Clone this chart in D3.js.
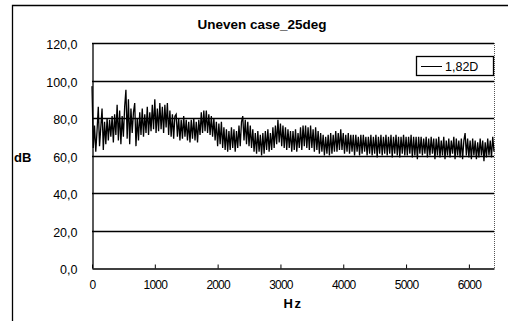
<!DOCTYPE html>
<html>
<head>
<meta charset="utf-8">
<script src="https://cdn.jsdelivr.net/npm/d3@7"></script>
<style>
  body { margin: 0; background: #fff; }
  svg { display: block; }
  text { font-family: "Liberation Sans", Arial, sans-serif; fill: #000; }
</style>
</head>
<body>
<div id="chart"></div>
<script>
const title = 'Uneven case_25deg';
const seriesName = '1,82D';
const yTicks = [0, 20, 40, 60, 80, 100, 120];
const xTicks = [0, 1000, 2000, 3000, 4000, 5000, 6000];
const freqStep = 20; // Hz between samples

// spectrum level in dB, one value every 20 Hz from 0 to 6400 Hz
const level0k = [97, 64, 76, 62, 73, 86, 65, 75, 85, 63, 78, 66, 80, 68, 79, 70, 81, 67, 82, 71,
  87, 68, 84, 66, 81, 70, 86, 95, 69, 90, 66, 85, 72, 83, 88, 65, 80, 68, 83, 71,
  85, 70, 82, 72, 86, 71, 83, 73, 87, 74];
const level1k = [90, 72, 85, 73, 88, 74, 86, 72, 87, 75, 88, 71, 84, 70, 82, 69, 81, 82, 70, 80,
  68, 79, 69, 81, 70, 79, 68, 78, 67, 79, 69, 80, 68, 78, 67, 79, 71, 83, 72, 84,
  73, 84, 72, 82, 71, 81, 70, 80, 68, 78];
const level2k = [65, 77, 66, 78, 64, 75, 63, 74, 62, 73, 63, 75, 64, 74, 62, 73, 64, 76, 65, 78,
  81, 68, 79, 66, 78, 65, 76, 64, 74, 62, 72, 61, 73, 62, 71, 60, 72, 61, 73, 63,
  74, 62, 72, 63, 75, 64, 76, 66, 79, 67];
const level3k = [77, 65, 76, 64, 75, 63, 74, 64, 73, 62, 73, 63, 74, 62, 72, 64, 75, 63, 76, 65,
  76, 64, 75, 63, 76, 64, 74, 62, 75, 63, 73, 61, 72, 62, 71, 60, 70, 61, 71, 60,
  72, 61, 71, 62, 73, 62, 72, 63, 74, 63];
const level4k = [72, 61, 71, 62, 72, 61, 71, 62, 71, 60, 71, 62, 70, 60, 71, 61, 71, 62, 70, 60,
  70, 61, 71, 60, 70, 61, 71, 59, 70, 61, 71, 60, 70, 61, 71, 60, 70, 61, 71, 59,
  70, 61, 71, 60, 70, 59, 70, 61, 71, 60];
const level5k = [70, 60, 70, 61, 71, 59, 70, 60, 70, 58, 70, 61, 70, 60, 69, 61, 70, 59, 69, 60,
  70, 61, 69, 58, 69, 60, 70, 59, 68, 60, 70, 58, 68, 60, 69, 59, 68, 61, 70, 58,
  69, 60, 68, 59, 69, 58, 68, 72, 60, 69];
const level6k = [59, 68, 58, 69, 60, 68, 58, 67, 59, 69, 60, 68, 57, 67, 59, 69, 60, 68, 59, 70, 62];

const levels = [].concat(level0k, level1k, level2k, level3k, level4k, level5k, level6k);
const data = levels.map((v, i) => ({hz: i * freqStep, db: v}));

const W = 508, H = 321;
const margin = {top: 43, right: 14, bottom: 53, left: 92};

const svg = d3.select('#chart').append('svg')
  .attr('width', W).attr('height', H);

// outer chart frame (cut off at right/bottom)
svg.append('path')
  .attr('d', 'M12.5,' + H + 'V5.5H' + W)
  .attr('fill', 'none').attr('stroke', '#000').attr('stroke-width', 1.3);

const x = d3.scaleLinear().domain([0, 6400]).range([margin.left, W - margin.right]);
const y = d3.scaleLinear().domain([0, 120]).range([H - margin.bottom, margin.top]);

// gridlines
svg.append('g')
  .selectAll('line')
  .data(yTicks.filter(d => d > 0))
  .join('line')
  .attr('x1', x(0)).attr('x2', x(6400))
  .attr('y1', d => Math.round(y(d)) + 0.5).attr('y2', d => Math.round(y(d)) + 0.5)
  .attr('stroke', '#000').attr('stroke-width', 1.3);

// right border dotted
svg.append('line')
  .attr('x1', x(6400) + 0.5).attr('x2', x(6400) + 0.5)
  .attr('y1', y(120)).attr('y2', y(0))
  .attr('stroke', '#555').attr('stroke-dasharray', '1,1');

// y axis
const yAxis = svg.append('g')
  .attr('transform', 'translate(' + (x(0) + 0.5) + ',0)')
  .call(d3.axisLeft(y).tickValues(yTicks).tickSize(0).tickPadding(15)
    .tickFormat(d => d3.format('.1f')(d).replace('.', ',')));
yAxis.select('.domain').attr('stroke-width', 1.3);
yAxis.selectAll('text').attr('font-size', 12.5).attr('dy', '0.45em');

// x axis, ticks pointing up into the plot
const xAxis = svg.append('g')
  .attr('transform', 'translate(0,' + (Math.round(y(0)) + 0.5) + ')')
  .call(d3.axisBottom(x).tickValues(xTicks).tickSizeInner(-4).tickSizeOuter(0).tickPadding(12)
    .tickFormat(d3.format('d')));
xAxis.select('.domain').attr('stroke-width', 1.3);
xAxis.selectAll('text').attr('font-size', 12).attr('letter-spacing', -0.8);

// spectrum trace
const line = d3.line()
  .x(d => x(d.hz))
  .y(d => y(d.db));

svg.append('path')
  .datum(data)
  .attr('d', line)
  .attr('fill', 'none')
  .attr('stroke', '#000')
  .attr('stroke-width', 1.3)
  .attr('stroke-linejoin', 'miter');

// title and axis names
svg.append('text')
  .attr('x', 262).attr('y', 29)
  .attr('text-anchor', 'middle')
  .attr('font-size', 13.5).attr('font-weight', 'bold')
  .text(title);

svg.append('text')
  .attr('x', 14).attr('y', 162)
  .attr('font-size', 13).attr('font-weight', 'bold')
  .text('dB');

svg.append('text')
  .attr('x', 293).attr('y', 308)
  .attr('text-anchor', 'middle')
  .attr('font-size', 13).attr('font-weight', 'bold').attr('letter-spacing', 1.5)
  .text('Hz');

// legend
const legend = svg.append('g');
legend.append('rect')
  .attr('x', 416.5).attr('y', 56.5).attr('width', 77).attr('height', 19)
  .attr('fill', '#fff').attr('stroke', '#000').attr('stroke-width', 1.3);
legend.append('line')
  .attr('x1', 421).attr('x2', 442).attr('y1', 66.5).attr('y2', 66.5)
  .attr('stroke', '#000');
legend.append('text')
  .attr('x', 445).attr('y', 71)
  .attr('font-size', 12.5)
  .text(seriesName);
</script>
</body>
</html>
